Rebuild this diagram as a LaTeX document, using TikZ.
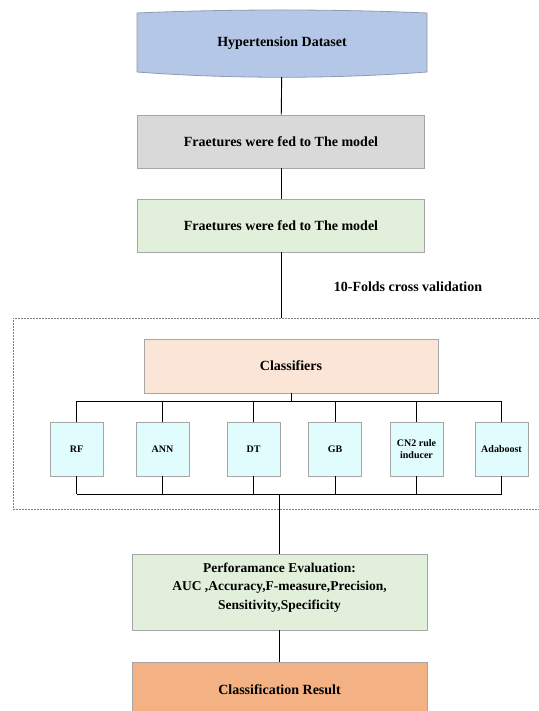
\documentclass[tikz,border=0pt]{standalone}
\usepackage{fontspec}
\setmainfont{Liberation Serif}
\usetikzlibrary{positioning}

\definecolor{dsblue}{HTML}{B4C7E7}
\definecolor{dsedge}{HTML}{8E9AAF}
\definecolor{featgray}{HTML}{D9D9D9}
\definecolor{featgreen}{HTML}{E2EFDA}
\definecolor{clfpeach}{HTML}{FBE5D6}
\definecolor{algcyan}{HTML}{E0FCFC}
\definecolor{resorange}{HTML}{F4B183}
\definecolor{edgegray}{HTML}{A6A6A6}

\tikzset{
    stagebox/.style={draw=edgegray, line width=0.8pt, minimum width=287pt,
        minimum height=53pt, align=center,
        font=\bfseries\fontsize{14}{16}\selectfont},
    algbox/.style={draw=edgegray, line width=0.8pt, fill=algcyan,
        minimum width=53pt, minimum height=54pt, align=center,
        font=\bfseries\fontsize{10}{12}\selectfont},
    cvframe/.style={draw=gray, line width=0.5pt, dash pattern=on 2pt off 1pt},
    link/.style={line width=0.9pt},
}

\begin{document}
\begin{tikzpicture}[x=1pt, y=-1pt]
    \useasboundingbox (0,0) rectangle (538,711);

    % dataset drum
    \draw[fill=dsblue, draw=dsedge, line width=0.8pt]
        (137,13) .. controls (230,9) and (334,9) .. (427,13)
        -- (427,72) .. controls (334,79) and (230,79) .. (137,72) -- cycle;
    \node[minimum width=290pt, minimum height=67pt,
          font=\bfseries\fontsize{14}{16}\selectfont] (data) at (282,43.5)
        {Hypertension Dataset};

    \node[stagebox, fill=featgray] (feat) at (281,141.5)
        {Fraetures were fed to The model};
    \node[stagebox, fill=featgreen] (sel) at (281,225.5)
        {Fraetures were fed to The model};
    \node[font=\bfseries\fontsize{14}{16}\selectfont] (fold) at (408,287)
        {10-Folds cross validation};

    \node[cvframe, minimum width=532pt, minimum height=191pt] (cv) at (279,413.5) {};

    \node[stagebox, fill=clfpeach, minimum width=294pt, minimum height=54pt] (clf)
        at (291,366) {Classifiers};

    \foreach \n/\x/\txt in {rf/76.5/RF, ann/162.5/ANN, dt/253.5/DT,
        gb/335/GB, cn2/416.5/{CN2 rule\\inducer}, ada/501.5/Adaboost} {
        \node[algbox] (\n) at (\x,449) {\txt};
    }

    \node[stagebox, fill=featgreen, minimum width=295pt, minimum height=76pt,
          font=\bfseries\fontsize{13.5}{18.5}\selectfont] (perf) at (279.5,592)
        {Perforamance Evaluation:\\AUC ,Accuracy,F-measure,Precision,\\Sensitivity,Specificity\\[-6pt]};
    \node[stagebox, fill=resorange, minimum width=295pt, minimum height=56pt] (res)
        at (279.5,690) {Classification Result};

    \coordinate (topbus) at (0,401);
    \coordinate (botbus) at (0,494);

    \draw[link] (data) -- (feat);
    \draw[link] (feat) -- (sel);
    \draw[link] (sel) -- (sel |- cv.north);

    \draw[link] (clf.south) -- (clf.south |- topbus);
    \draw[link] (rf.north |- topbus) -- (ada.north |- topbus);
    \draw[link] (rf.south |- botbus) -- (ada.south |- botbus);
    \foreach \n in {rf, ann, dt, gb, cn2, ada} {
        \draw[link] (\n.north) -- (\n.north |- topbus);
        \draw[link] (\n.south) -- (\n.south |- botbus);
    }
    \draw[link] (perf.north |- botbus) -- (perf.north);
    \draw[link] (perf) -- (res);
\end{tikzpicture}
\end{document}
